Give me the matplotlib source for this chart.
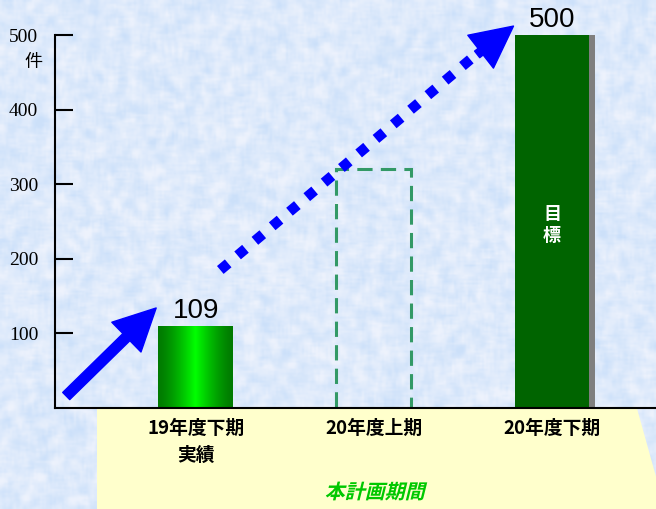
import numpy as np
import matplotlib
matplotlib.use("Agg")
import matplotlib.pyplot as plt
from matplotlib.patches import FancyArrowPatch, Polygon, PathPatch
from matplotlib.textpath import TextPath
from matplotlib.font_manager import FontProperties
from matplotlib.transforms import Affine2D, blended_transform_factory

plt.rcParams["font.family"] = ["Noto Sans CJK JP", "DejaVu Sans"]

# ---------------------------------------------------------------------------
# Data
# ---------------------------------------------------------------------------
periods = ["19年度下期\n実績", "20年度上期", "20年度下期"]
counts = [109, 320, 500]          # actual, interim, target
y_ticks = [100, 200, 300, 400, 500]
unit_label = "件"
target_label = "目標"
span_label = "本計画期間"

W, H = 656, 509
fig = plt.figure(figsize=(W / 100, H / 100), dpi=100)

# ---------------------------------------------------------------------------
# Background layer (pixel coordinates, y up)
# ---------------------------------------------------------------------------
bg = fig.add_axes([0, 0, 1, 1], zorder=0)
bg.set_xlim(0, W)
bg.set_ylim(0, H)
bg.axis("off")


def box_blur(a, r):
    out = np.zeros_like(a)
    for dy in range(-r, r + 1):
        for dx in range(-r, r + 1):
            out += np.roll(np.roll(a, dy, 0), dx, 1)
    return out / (2 * r + 1) ** 2


rng = np.random.default_rng(11)
noise = box_blur(rng.random((H // 2, W // 2)), 2)
noise = (noise - noise.min()) / (noise.max() - noise.min())
noise = np.clip((noise - 0.5) * 1.6 + 0.5, 0, 1)
blue = np.array([0.80, 0.88, 0.98])
pale = np.array([0.93, 0.95, 0.99])
tex = blue + (pale - blue) * noise[..., None]
bg.imshow(tex, extent=(0, W, 0, H), aspect="auto", interpolation="bilinear")

# pale yellow period band with an arrow-shaped right end
bg.add_patch(Polygon([(97, 0), (97, 100.5), (637, 100.5), (665, 0)],
                     closed=True, facecolor="#FFFFCC", edgecolor="none"))

# slanted green caption for the plan period
fp = FontProperties(family="Noto Sans CJK JP", weight="bold")
tp = TextPath((0, 0), span_label, size=20, prop=fp)
ext = tp.get_extents()
tr = (Affine2D()
      .translate(-(ext.x0 + ext.x1) / 2, -(ext.y0 + ext.y1) / 2)
      .skew_deg(14, 0)
      .translate(376, H - 491))
bg.add_patch(PathPatch(tr.transform_path(tp), facecolor="#00C800",
                       edgecolor="none"))

# ---------------------------------------------------------------------------
# Chart
# ---------------------------------------------------------------------------
ax = fig.add_axes([55 / W, 101.5 / H, 601 / W, 407.5 / H], zorder=1)
ax.set_facecolor("none")

x = np.arange(len(periods))
width = 0.42

# actual: horizontal green gradient bar
bar_actual = ax.bar(x[0], counts[0], width, color="none", linewidth=0)[0]
t = np.linspace(-1, 1, 128)
g = 0.48 + 0.52 * (1 - np.abs(t)) ** 1.4
grad = np.stack([np.zeros_like(g), g, np.zeros_like(g)], axis=-1)[None, :, :]
img = ax.imshow(grad, extent=(x[0] - width / 2, x[0] + width / 2, 0, counts[0]),
                aspect="auto", interpolation="bilinear", zorder=2)
img.set_clip_path(bar_actual)

# interim: dashed outline only
ax.bar(x[1], counts[1], width, fill=False, edgecolor="#339966",
       linewidth=2.2, linestyle=(0, (5, 2.7)), zorder=2)

# target: dark green with grey drop shadow
ax.bar(x[2] + 0.03, counts[2], width, color="#7f7f7f", linewidth=0, zorder=1.5)
ax.bar(x[2], counts[2], width, color="#006400", linewidth=0, zorder=2)
ax.text(x[2], 245, "\n".join(target_label), color="white", fontsize=13,
        fontweight="bold", ha="center", va="center", linespacing=1.15,
        zorder=3)

for i in (0, 2):
    ax.annotate(str(counts[i]), (x[i], counts[i]), xytext=(0, 6),
                textcoords="offset points", ha="center", va="baseline",
                fontsize=20, family="Liberation Sans", zorder=3)

# growth arrows
ax.add_patch(FancyArrowPatch(
    (-0.727, 15.4), (-0.222, 133.6),
    arrowstyle="simple,head_length=30,head_width=30,tail_width=7.2",
    mutation_scale=1, shrinkA=0, shrinkB=0, color="#0000FF", zorder=4))

ax.plot([0.138, 1.59], [184.6, 477], color="#0000FF", linewidth=7.4,
        dashes=(1, 1.2), dash_capstyle="butt", zorder=4)
ax.add_patch(FancyArrowPatch(
    (1.58, 474), (1.784, 512),
    arrowstyle="simple,head_length=30,head_width=30,tail_width=6",
    mutation_scale=1, shrinkA=0, shrinkB=0, color="#0000FF", zorder=4,
    clip_on=False))

# axes styling
ax.set_xlim(-0.79, 2.584)
ax.set_ylim(0, 547)
for side in ("top", "right"):
    ax.spines[side].set_visible(False)
ax.spines["left"].set_bounds(0, 500)
ax.spines["left"].set_linewidth(1.5)
ax.spines["bottom"].set_linewidth(1.5)

ax.set_yticks(y_ticks)
ax.set_yticklabels([str(v) for v in y_ticks], family="Liberation Serif",
                   fontsize=14)
ax.tick_params(axis="y", direction="in", length=13, width=1.5, pad=12)

ax.set_xticks(x)
ax.set_xticklabels(periods, fontsize=13.5, fontweight="bold")
ax.tick_params(axis="x", length=0, pad=8)
for lab in ax.get_xticklabels():
    lab.set_linespacing(1.55)

ax.text(-22 / 601, 464, unit_label, fontsize=13, ha="center", va="center",
        transform=blended_transform_factory(ax.transAxes, ax.transData))

fig.savefig("out.png", dpi=100)
